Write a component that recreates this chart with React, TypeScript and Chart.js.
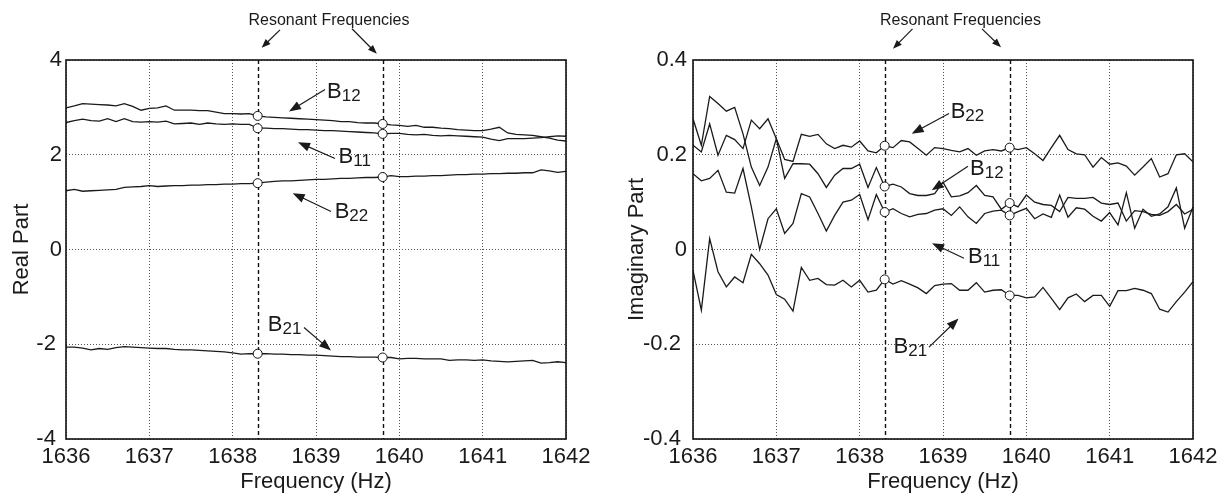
import React, { useEffect, useRef } from "react";
import { Chart, registerables } from "chart.js";

Chart.register(...registerables);

// ---------- data ----------
const FREQ = [
  1636.0, 1636.1, 1636.2, 1636.3, 1636.4, 1636.5, 1636.6, 1636.7, 1636.8, 1636.9,
  1637.0, 1637.1, 1637.2, 1637.3, 1637.4, 1637.5, 1637.6, 1637.7, 1637.8, 1637.9,
  1638.0, 1638.1, 1638.2, 1638.3, 1638.4, 1638.5, 1638.6, 1638.7, 1638.8, 1638.9,
  1639.0, 1639.1, 1639.2, 1639.3, 1639.4, 1639.5, 1639.6, 1639.7, 1639.8, 1639.9,
  1640.0, 1640.1, 1640.2, 1640.3, 1640.4, 1640.5, 1640.6, 1640.7, 1640.8, 1640.9,
  1641.0, 1641.1, 1641.2, 1641.3, 1641.4, 1641.5, 1641.6, 1641.7, 1641.8, 1641.9,
  1642.0,
];
const RESONANT = [1638.3, 1639.8];
const X_TICKS = [1636, 1637, 1638, 1639, 1640, 1641, 1642];
const REAL_TICKS = [-4, -2, 0, 2, 4];
const IMAG_TICKS = [-0.4, -0.2, 0, 0.2, 0.4];

const REAL_B12 = [
  2.99, 3.03, 3.08, 3.07, 3.06, 3.05, 3.03, 3.08, 3.02, 2.94,
  2.98, 2.99, 3.03, 2.94, 2.94, 2.94, 2.93, 2.93, 2.90, 2.87,
  2.87, 2.86, 2.87, 2.82, 2.80, 2.79, 2.78, 2.77, 2.76, 2.75,
  2.74, 2.73, 2.72, 2.70, 2.70, 2.68, 2.67, 2.67, 2.65, 2.63,
  2.62, 2.60, 2.62, 2.58, 2.58, 2.56, 2.55, 2.53, 2.52, 2.51,
  2.51, 2.54, 2.58, 2.46, 2.43, 2.42, 2.41, 2.38, 2.35, 2.31,
  2.29,
];
const REAL_B11 = [
  2.68, 2.72, 2.75, 2.72, 2.71, 2.76, 2.70, 2.76, 2.70, 2.69,
  2.70, 2.69, 2.71, 2.65, 2.66, 2.67, 2.64, 2.67, 2.65, 2.64,
  2.65, 2.64, 2.64, 2.56, 2.56, 2.55, 2.55, 2.54, 2.53, 2.53,
  2.52, 2.51, 2.51, 2.50, 2.49, 2.48, 2.47, 2.46, 2.44, 2.45,
  2.45, 2.43, 2.42, 2.43, 2.41, 2.40, 2.41, 2.40, 2.39, 2.38,
  2.37, 2.33, 2.30, 2.34, 2.34, 2.34, 2.35, 2.36, 2.38, 2.40,
  2.39,
];
const REAL_B22 = [
  1.24, 1.27, 1.23, 1.24, 1.25, 1.26, 1.27, 1.31, 1.32, 1.33,
  1.35, 1.33, 1.34, 1.35, 1.35, 1.36, 1.36, 1.37, 1.37, 1.38,
  1.38, 1.39, 1.39, 1.40, 1.42, 1.44, 1.45, 1.45, 1.46, 1.47,
  1.48, 1.48, 1.49, 1.50, 1.50, 1.51, 1.52, 1.52, 1.53, 1.56,
  1.54, 1.54, 1.55, 1.55, 1.56, 1.56, 1.57, 1.58, 1.58, 1.59,
  1.59, 1.60, 1.60, 1.61, 1.61, 1.62, 1.62, 1.68, 1.66, 1.63,
  1.65,
];
const REAL_B21 = [
  -2.06, -2.06, -2.08, -2.12, -2.09, -2.11, -2.07, -2.05, -2.06, -2.07,
  -2.08, -2.09, -2.09, -2.11, -2.12, -2.12, -2.13, -2.14, -2.15, -2.16,
  -2.18, -2.21, -2.20, -2.20, -2.20, -2.21, -2.21, -2.22, -2.22, -2.23,
  -2.23, -2.24, -2.25, -2.26, -2.26, -2.27, -2.27, -2.27, -2.28, -2.28,
  -2.31, -2.30, -2.30, -2.31, -2.31, -2.31, -2.34, -2.33, -2.33, -2.34,
  -2.33, -2.35, -2.36, -2.37, -2.36, -2.35, -2.34, -2.40, -2.39, -2.37,
  -2.39,
];

const IMAG_B22 = [
  0.220, 0.206, 0.265, 0.199, 0.241, 0.232, 0.213, 0.273, 0.255, 0.276,
  0.234, 0.190, 0.186, 0.243, 0.239, 0.243, 0.223, 0.213, 0.220, 0.216,
  0.229, 0.208, 0.204, 0.219, 0.215, 0.230, 0.227, 0.213, 0.199, 0.215,
  0.213, 0.209, 0.206, 0.213, 0.199, 0.208, 0.211, 0.208, 0.215, 0.211,
  0.215, 0.202, 0.188, 0.215, 0.241, 0.211, 0.202, 0.200, 0.174, 0.194,
  0.180, 0.183, 0.176, 0.157, 0.174, 0.192, 0.153, 0.160, 0.200, 0.202,
  0.185,
];
const IMAG_B12 = [
  0.276, 0.220, 0.323, 0.308, 0.292, 0.300, 0.244, 0.174, 0.135, 0.174,
  0.234, 0.150, 0.181, 0.181, 0.180, 0.160, 0.131, 0.157, 0.171, 0.171,
  0.180, 0.131, 0.173, 0.133, 0.138, 0.132, 0.118, 0.114, 0.114, 0.118,
  0.142, 0.111, 0.113, 0.120, 0.135, 0.114, 0.111, 0.085, 0.098, 0.090,
  0.115, 0.100, 0.095, 0.093, 0.080, 0.110, 0.108, 0.108, 0.110, 0.098,
  0.095, 0.098, 0.060, 0.082, 0.080, 0.074, 0.072, 0.080, 0.095, 0.075,
  0.085,
];
const IMAG_B11 = [
  0.160, 0.145, 0.150, 0.167, 0.121, 0.119, 0.171, 0.090, 0.000, 0.065,
  0.086, 0.034, 0.055, 0.118, 0.111, 0.076, 0.039, 0.072, 0.100, 0.104,
  0.116, 0.063, 0.116, 0.079, 0.086, 0.076, 0.069, 0.074, 0.076, 0.083,
  0.086, 0.072, 0.090, 0.069, 0.055, 0.076, 0.081, 0.083, 0.072, 0.080,
  0.087, 0.065, 0.075, 0.068, 0.115, 0.068, 0.088, 0.085, 0.070, 0.060,
  0.078, 0.052, 0.120, 0.045, 0.085, 0.070, 0.075, 0.090, 0.130, 0.045,
  0.090,
];
const IMAG_B21 = [
  -0.044, -0.128, 0.023, -0.047, -0.079, -0.058, -0.070, -0.010, -0.030, -0.054,
  -0.095, -0.105, -0.130, -0.038, -0.065, -0.061, -0.074, -0.075, -0.065, -0.079,
  -0.065, -0.090, -0.086, -0.063, -0.073, -0.066, -0.073, -0.081, -0.093, -0.076,
  -0.073, -0.072, -0.086, -0.086, -0.070, -0.090, -0.086, -0.085, -0.097, -0.097,
  -0.102, -0.100, -0.080, -0.103, -0.127, -0.102, -0.094, -0.110, -0.097, -0.097,
  -0.120, -0.087, -0.087, -0.082, -0.086, -0.093, -0.126, -0.132, -0.110, -0.090,
  -0.068,
];

// ---------- styling / annotation layout ----------
const FONT = '"Liberation Sans", Arial, Helvetica, sans-serif';
const INK = "#1a1a1a";

type Label = { sub: string; x: number; y: number; ax1: number; ay1: number; ax2: number; ay2: number };
type Head = { tx: number; ty: number; a1x: number; a1y: number; a1tx: number; a1ty: number; a2x: number; a2y: number; a2tx: number; a2ty: number };

const REAL_HEAD: Head = {
  tx: 1639.156, ty: 4.749,
  a1x: 1638.568, a1y: 4.637, a1tx: 1638.348, a1ty: 4.257,
  a2x: 1639.432, a2y: 4.659, a2tx: 1639.73, a2ty: 4.131,
};
const IMAG_HEAD: Head = {
  tx: 1639.21, ty: 0.4748,
  a1x: 1638.634, a1y: 0.4658, a1tx: 1638.4, a1ty: 0.4236,
  a2x: 1639.468, a2y: 0.4658, a2tx: 1639.696, a2ty: 0.427,
};
const REAL_LABELS: Label[] = [
  { sub: "12", x: 1639.132, y: 3.208, ax1: 1639.108, ay1: 3.377, ax2: 1638.676, ay2: 2.913 },
  { sub: "11", x: 1639.271, y: 1.836, ax1: 1639.228, ay1: 1.921, ax2: 1638.784, ay2: 2.265 },
  { sub: "22", x: 1639.224, y: 0.675, ax1: 1639.18, ay1: 0.802, ax2: 1638.72, ay2: 1.188 },
  { sub: "21", x: 1638.422, y: -1.71, ax1: 1638.856, ay1: -1.646, ax2: 1639.18, ay2: -2.132 },
];
const IMAG_LABELS: Label[] = [
  { sub: "22", x: 1639.092, y: 0.2767, ax1: 1639.072, ay1: 0.2872, ax2: 1638.624, ay2: 0.2444 },
  { sub: "12", x: 1639.324, y: 0.1565, ax1: 1639.3, ay1: 0.1755, ax2: 1638.864, ay2: 0.1249 },
  { sub: "11", x: 1639.3, y: -0.029, ax1: 1639.252, ay1: -0.0184, ax2: 1638.868, ay2: 0.0132 },
  { sub: "21", x: 1638.407, y: -0.2187, ax1: 1638.832, ay1: -0.206, ax2: 1639.187, ay2: -0.1456 },
];

function arrow(ctx: CanvasRenderingContext2D, x1: number, y1: number, x2: number, y2: number, L: number, W: number) {
  const ang = Math.atan2(y2 - y1, x2 - x1);
  const c = Math.cos(ang), s = Math.sin(ang);
  ctx.beginPath();
  ctx.moveTo(x1, y1);
  ctx.lineTo(x2 - c * L * 0.6, y2 - s * L * 0.6);
  ctx.stroke();
  ctx.beginPath();
  ctx.moveTo(x2, y2);
  ctx.lineTo(x2 - c * L + s * W, y2 - s * L - c * W);
  ctx.lineTo(x2 - c * L - s * W, y2 - s * L + c * W);
  ctx.closePath();
  ctx.fill();
}

function overlay(head: Head, labels: Label[]) {
  return {
    id: "overlay",
    beforeDatasetsDraw(chart: any) {
      const { ctx, chartArea: a, scales } = chart;
      ctx.save();
      ctx.strokeStyle = "#111";
      ctx.lineWidth = 1.4;
      ctx.setLineDash([4, 3]);
      RESONANT.forEach((f) => {
        const px = Math.round(scales.x.getPixelForValue(f)) + 0.5;
        ctx.beginPath();
        ctx.moveTo(px, a.top);
        ctx.lineTo(px, a.bottom);
        ctx.stroke();
      });
      ctx.restore();
    },
    afterDraw(chart: any) {
      const { ctx, chartArea: a, scales } = chart;
      const X = (v: number) => scales.x.getPixelForValue(v);
      const Y = (v: number) => scales.y.getPixelForValue(v);
      ctx.save();
      // frame
      ctx.strokeStyle = "#111";
      ctx.lineWidth = 1.6;
      ctx.setLineDash([]);
      ctx.strokeRect(a.left, a.top, a.right - a.left, a.bottom - a.top);
      // header
      ctx.fillStyle = INK;
      ctx.strokeStyle = INK;
      ctx.lineWidth = 1.2;
      ctx.font = `16px ${FONT}`;
      ctx.textAlign = "center";
      ctx.textBaseline = "alphabetic";
      ctx.fillText("Resonant Frequencies", X(head.tx), Y(head.ty));
      arrow(ctx, X(head.a1x), Y(head.a1y), X(head.a1tx), Y(head.a1ty), 9, 3.5);
      arrow(ctx, X(head.a2x), Y(head.a2y), X(head.a2tx), Y(head.a2ty), 9, 3.5);
      // labels
      ctx.textAlign = "left";
      labels.forEach((l) => {
        const px = X(l.x), py = Y(l.y);
        ctx.font = `22px ${FONT}`;
        ctx.fillText("B", px, py);
        const w = ctx.measureText("B").width;
        ctx.font = `17px ${FONT}`;
        ctx.fillText(l.sub, px + w, py + 3);
        arrow(ctx, X(l.ax1), Y(l.ay1), X(l.ax2), Y(l.ay2), 12, 4.5);
      });
      ctx.restore();
    },
  };
}

function makeConfig(opts: {
  series: number[][];
  yTicks: number[];
  yMin: number;
  yMax: number;
  yTitle: string;
  yWidth: number;
  padRight: number;
  yTickPad: number;
  yTitlePad: number;
  head: Head;
  labels: Label[];
}): any {
  const lineSets = opts.series.map((arr) => ({
    data: FREQ.map((f, i) => ({ x: f, y: arr[i] })),
    borderColor: INK,
    borderWidth: 1.3,
    pointRadius: 0,
    fill: false,
    tension: 0,
    order: 1,
  }));
  const markers = {
    data: opts.series.flatMap((arr) => RESONANT.map((f) => ({ x: f, y: arr[FREQ.indexOf(f)] }))),
    showLine: false,
    pointRadius: 4.5,
    pointBackgroundColor: "#ffffff",
    pointBorderColor: "#111",
    pointBorderWidth: 1,
    order: 0,
  };
  const grid = { color: "#555", lineWidth: 1, drawTicks: false };
  const border = { display: false, dash: [1, 2] };
  return {
    type: "line",
    data: { datasets: [markers, ...lineSets] },
    options: {
      responsive: false,
      animation: false,
      events: [],
      layout: { padding: { top: 60, right: opts.padRight, bottom: 0, left: 0 } },
      plugins: { legend: { display: false }, tooltip: { enabled: false } },
      scales: {
        x: {
          type: "linear",
          min: 1636,
          max: 1642,
          afterBuildTicks: (s: any) => {
            s.ticks = X_TICKS.map((v) => ({ value: v }));
          },
          afterFit: (s: any) => {
            s.height = 61;
          },
          grid,
          border,
          ticks: {
            padding: 5,
            color: INK,
            font: { family: FONT, size: 22 },
            maxRotation: 0,
            autoSkip: false,
            callback: (v: number) => String(v),
          },
          title: {
            display: true,
            text: "Frequency (Hz)",
            color: INK,
            font: { family: FONT, size: 22 },
            padding: { top: 0, bottom: 5 },
          },
        },
        y: {
          type: "linear",
          min: opts.yMin,
          max: opts.yMax,
          afterBuildTicks: (s: any) => {
            s.ticks = opts.yTicks.map((v) => ({ value: v }));
          },
          afterFit: (s: any) => {
            s.width = opts.yWidth;
          },
          grid,
          border,
          ticks: {
            padding: opts.yTickPad,
            color: INK,
            font: { family: FONT, size: 22 },
            autoSkip: false,
            callback: (v: number) => (v < 0 ? `${v} ` : `${v}`),
          },
          title: {
            display: true,
            text: opts.yTitle,
            color: INK,
            font: { family: FONT, size: 22 },
            padding: { top: opts.yTitlePad, bottom: 0 },
          },
        },
      },
    },
    plugins: [overlay(opts.head, opts.labels)],
  };
}

function Panel({ left, width, config }: { left: number; width: number; config: any }) {
  const ref = useRef<HTMLCanvasElement | null>(null);
  useEffect(() => {
    if (!ref.current) return;
    const chart = new Chart(ref.current, config);
    return () => chart.destroy();
  }, []);
  return (
    <canvas
      ref={ref}
      width={width}
      height={500}
      style={{ position: "absolute", left, top: 0, width, height: 500, display: "block" }}
    />
  );
}

export default function App() {
  const realCfg = makeConfig({
    series: [REAL_B12, REAL_B11, REAL_B22, REAL_B21],
    yTicks: REAL_TICKS,
    yMin: -4,
    yMax: 4,
    yTitle: "Real Part",
    yWidth: 66,
    padRight: 34,
    yTickPad: 4,
    yTitlePad: 9,
    head: REAL_HEAD,
    labels: REAL_LABELS,
  });
  const imagCfg = makeConfig({
    series: [IMAG_B22, IMAG_B12, IMAG_B11, IMAG_B21],
    yTicks: IMAG_TICKS,
    yMin: -0.4,
    yMax: 0.4,
    yTitle: "Imaginary Part",
    yWidth: 79,
    padRight: 35,
    yTickPad: 6,
    yTitlePad: 10,
    head: IMAG_HEAD,
    labels: IMAG_LABELS,
  });
  return (
    <div style={{ position: "absolute", left: 0, top: 0, width: 1228, height: 500, background: "#fff" }}>
      <Panel left={0} width={600} config={realCfg} />
      <Panel left={614} width={614} config={imagCfg} />
    </div>
  );
}
